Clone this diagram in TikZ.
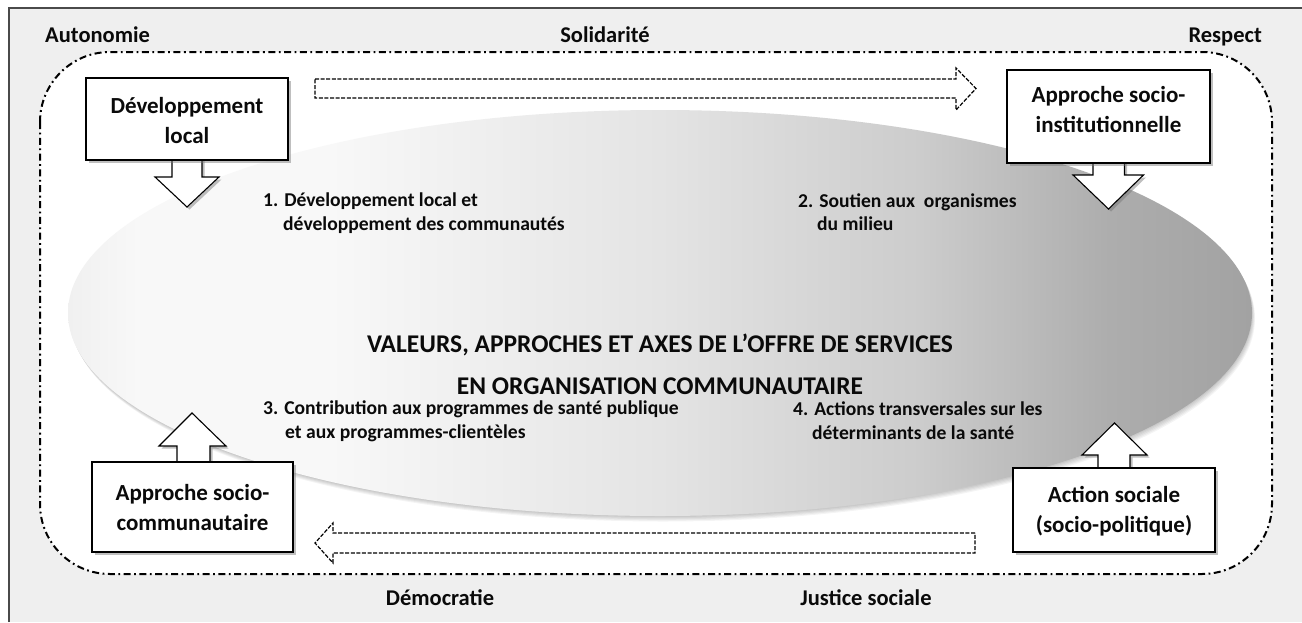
\documentclass[tikz,border=0pt]{standalone}
\usepackage{fontspec}
\setmainfont{Carlito}
\usetikzlibrary{calc,shapes.geometric,shadows}

\definecolor{framebg}{HTML}{EFEFEF}
\definecolor{frameline}{HTML}{4A4A4A}
\definecolor{inkcol}{HTML}{0A0A0A}
\definecolor{ovA}{HTML}{F0F0F0}
\definecolor{ovB}{HTML}{F8F8F8}
\definecolor{ovC}{HTML}{E4E4E4}
\definecolor{ovD}{HTML}{CCCCCC}
\definecolor{ovE}{HTML}{ADADAD}
\definecolor{ovF}{HTML}{A2A2A2}

% left-to-right fade of the central oval (inner 25bp--75bp fills the shape)
\pgfdeclarehorizontalshading{ovalfade}{100bp}{%
  color(0bp)=(ovA); color(25bp)=(ovA); color(28bp)=(ovB); color(36bp)=(ovB);
  color(50bp)=(ovC); color(61bp)=(ovD); color(69bp)=(ovE);
  color(75bp)=(ovF); color(100bp)=(ovF)}

\tikzset{
  softshadow/.style={drop shadow={shadow xshift=2.5pt, shadow yshift=-2.5pt,
      opacity=0.45, fill=black!55}},
  approachbox/.style={draw=black, line width=1.1pt, fill=white, softshadow,
      inner sep=0pt, outer sep=0pt},
  blockarrow/.style={draw=black, line width=1.1pt, fill=white, softshadow,
      line join=miter},
  flowarrow/.style={draw=black, line width=1.2pt, fill=white,
      dash pattern=on 4pt off 1.6pt},
  boxtext/.style={font=\bfseries\fontsize{23}{28}\selectfont, text=inkcol,
      inner sep=0pt, anchor=base},
  valuetext/.style={font=\bfseries\fontsize{22.5}{27}\selectfont, text=inkcol,
      inner sep=0pt},
  axistext/.style={font=\bfseries\fontsize{19.6}{24}\selectfont, text=inkcol,
      inner sep=0pt, anchor=base west},
  titletext/.style={font=\bfseries\fontsize{25.5}{30}\selectfont, text=inkcol,
      inner sep=0pt, anchor=base},
}

\begin{document}
\begin{tikzpicture}[x=1pt,y=-1pt]
\useasboundingbox (0,0) rectangle (1302,622);

% outer panel with its top and left rule
\fill[framebg] (9,8) rectangle (1302,622);
\draw[frameline, line width=2.2pt] (9,622) -- (9,8) -- (1302,8);

% dash-dotted field of the approaches
\draw[fill=white, line width=2pt, rounded corners=70pt,
      dash pattern=on 7pt off 3.5pt on 1.8pt off 3.5pt]
  (40,52) rectangle (1272,574);

% soft shadow under the oval
\foreach \k in {1,...,5}
  \fill[black, opacity=0.045] (660+0.6*\k,313+1.1*\k) ellipse [x radius=592, y radius=203];

% central oval
\node[ellipse, shading=ovalfade, minimum width=1184pt, minimum height=406pt,
      inner sep=0pt, outer sep=0pt] (oval) at (660,313) {};

% values around the field
\node[valuetext, anchor=base west] (autonomie) at (45,42) {Autonomie};
\node[valuetext, anchor=base] (solidarite) at (605,42) {Solidarité};
\node[valuetext, anchor=base east] (respect) at (1262,42) {Respect};
\node[valuetext, anchor=base] (democratie) at (440,605) {Démocratie};
\node[valuetext, anchor=base] (justice) at (866,605) {Justice sociale};

% title
\node[titletext] (title1) at (660,352) {VALEURS, APPROCHES ET AXES DE L’OFFRE DE SERVICES};
\node[titletext] (title2) at (660,394) {EN ORGANISATION COMMUNAUTAIRE};

% the four axes
\node[axistext] (ax1a) at (263,206) {1. Développement local et};
\node[axistext] (ax1b) at (283,230) {développement des communautés};
\node[axistext] (ax2a) at (798,207) {2. Soutien aux\ \ organismes};
\node[axistext] (ax2b) at (817,230) {du milieu};
\node[axistext] (ax3a) at (263,414) {3. Contribution aux programmes de santé publique};
\node[axistext] (ax3b) at (285,438) {et aux programmes-clientèles};
\node[axistext] (ax4a) at (793,415) {4. Actions transversales sur les};
\node[axistext] (ax4b) at (812,439) {déterminants de la santé};

% dashed flow arrows between the approaches
\coordinate (topstart) at (315,88.5);
\coordinate (botstart) at (975,543);
\draw[flowarrow] ($(topstart)+(0,-9.5)$) -- ++(641,0) -- ++(0,-11) -- ++(20,20.5)
  -- ++(-20,21.5) -- ++(0,-12) -- ++(-641,0) -- cycle;
\draw[flowarrow] ($(botstart)+(0,-10)$) -- ++(-642,0) -- ++(0,-10) -- ++(-18,20)
  -- ++(18,20) -- ++(0,-10) -- ++(642,0) -- cycle;

% box anchors for the block arrows
\coordinate (b1s) at (187,160);
\coordinate (b2s) at (1108.5,163);
\coordinate (b3n) at (193.5,462);
\coordinate (b4n) at (1114,468);

% block arrows pointing into the oval
\draw[blockarrow] ($(b1s)+(-15,-2)$) -- ++(0,19) -- ++(-17,0) -- ++(32,30)
  -- ++(32,-30) -- ++(-17,0) -- ++(0,-19) -- cycle;
\draw[blockarrow] ($(b2s)+(-15.5,-2)$) -- ++(0,14) -- ++(-20,0) -- ++(35.5,34)
  -- ++(35,-34) -- ++(-19,0) -- ++(0,-14) -- cycle;
\draw[blockarrow] ($(b3n)+(-16.5,2)$) -- ++(0,-18) -- ++(-18,0) -- ++(33,-33)
  -- ++(34,33) -- ++(-16,0) -- ++(0,18) -- cycle;
\draw[blockarrow] ($(b4n)+(-16,2)$) -- ++(0,-15) -- ++(-16,0) -- ++(32.5,-32)
  -- ++(32.5,32) -- ++(-17,0) -- ++(0,15) -- cycle;

% the four approaches
\node[approachbox, minimum width=202pt, minimum height=82pt] (devlocal) at (187,119) {};
\node[approachbox, minimum width=203pt, minimum height=93pt] (sociinst) at (1108.5,116.5) {};
\node[approachbox, minimum width=201pt, minimum height=90pt] (socicomm) at (192.5,507) {};
\node[approachbox, minimum width=202pt, minimum height=84pt] (actsoc) at (1114,510) {};

\node[boxtext] (devlocal1) at (187,113) {Développement};
\node[boxtext] (devlocal2) at (187,143) {local};
\node[boxtext] (sociinst1) at (1108.5,102) {Approche socio-};
\node[boxtext] (sociinst2) at (1108.5,132) {institutionnelle};
\node[boxtext] (socicomm1) at (192.5,500) {Approche socio-};
\node[boxtext] (socicomm2) at (192.5,530) {communautaire};
\node[boxtext] (actsoc1) at (1114,502) {Action sociale};
\node[boxtext] (actsoc2) at (1114,532) {(socio-politique)};
\end{tikzpicture}
\end{document}
